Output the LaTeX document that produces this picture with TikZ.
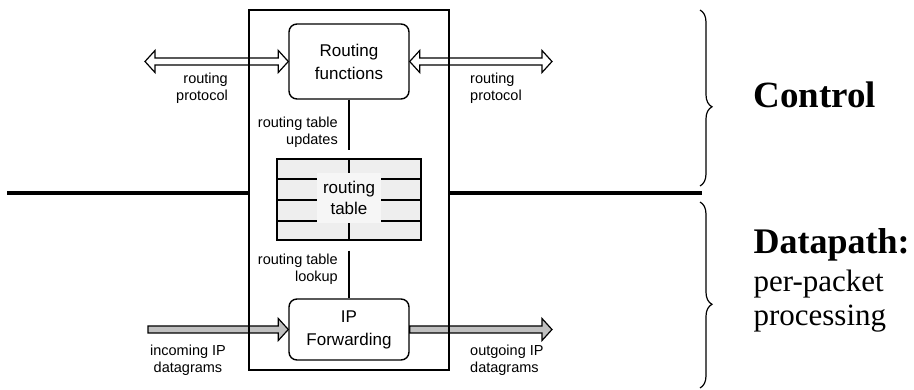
\documentclass[tikz,border=0pt]{standalone}
\usepackage{fontspec}
\setmainfont{Liberation Serif}
\setsansfont{Liberation Sans}
\usetikzlibrary{calc,decorations.pathreplacing}

% fat one-way arrow: fill, tail, head
\newcommand{\fatarrow}[3]{%
  \draw[line width=1.2pt, fill=#1] let \p1=(#2), \p2=(#3) in
    (\x1,\y2+3.5pt) -- (\x2-10pt,\y2+3.5pt) -- (\x2-10pt,\y2+11pt) -- (\x2,\y2)
    -- (\x2-10pt,\y2-11pt) -- (\x2-10pt,\y2-3.5pt) -- (\x1,\y2-3.5pt) -- cycle;}
% fat two-way arrow: left tip, right tip
\newcommand{\fatdarrow}[2]{%
  \draw[line width=1.2pt, fill=white] let \p1=(#1), \p2=(#2) in
    (\x1,\y2) -- (\x1+10pt,\y2+11pt) -- (\x1+10pt,\y2+3.5pt) -- (\x2-10pt,\y2+3.5pt)
    -- (\x2-10pt,\y2+11pt) -- (\x2,\y2) -- (\x2-10pt,\y2-11pt) -- (\x2-10pt,\y2-3.5pt)
    -- (\x1+10pt,\y2-3.5pt) -- (\x1+10pt,\y2-11pt) -- cycle;}

\begin{document}
\begin{tikzpicture}[x=1pt,y=-1pt,
    fnbox/.style={draw,rounded corners=8pt,line width=1.4pt,fill=white,minimum width=120,align=center,font=\sffamily\fontsize{17}{23}\selectfont},
    lbl/.style={inner sep=0pt,font=\sffamily\fontsize{14.5}{17}\selectfont},
    link/.style={line width=1.4pt}]
    \definecolor{router_table}{RGB}{238,238,238}
    \definecolor{router_label}{RGB}{246,246,246}
    \definecolor{router_data}{RGB}{192,192,192}
    \useasboundingbox (0,0) rectangle (914,390);

    \node[fnbox,minimum height=75] (rf) at (349,61.5) {Routing\\functions};
    \node[fnbox,minimum height=61] (ipf) at (349,329.5) {IP\\Forwarding};
    \node[shape=rectangle,draw,line width=1.4pt,fill=router_table,minimum width=144,minimum height=81] (rt) at (349,199.5) {};
    \foreach \y in {179,200,221}
        \draw[line width=1.4pt] (277,\y) -- (421,\y);
    \draw[line width=1.4pt] (349,159) -- (349,179) (349,221) -- (349,240);
    \node[fill=router_label,inner sep=0pt,minimum width=64,minimum height=50,align=center,font=\sffamily\fontsize{17}{21}\selectfont] (rtlabel) at (349,198) {routing\\table};

    \draw[link,shorten >=8pt] (rf.south) -- (rt.north);
    \draw[link,shorten <=10pt] (rt.south) -- (ipf.north);

    \coordinate (protoL) at (145,61.5);
    \coordinate (protoR) at (552,61.5);
    \coordinate (dataL) at (148,329.5);
    \coordinate (dataR) at (552,329.5);
    \fatdarrow{protoL}{rf.west}
    \fatdarrow{rf.east}{protoR}
    \fatarrow{router_data}{dataL}{ipf.west}
    \fatarrow{router_data}{ipf.east}{dataR}

    \node[shape=rectangle,draw,line width=1.6pt,minimum width=200,minimum height=360] (frame) at (349,190) {};

    \coordinate (divL) at (7,193);
    \coordinate (divR) at (702,193);
    \draw[line width=3.5pt] (divL) -- (divL -| frame.west);
    \draw[line width=3.5pt] (divR -| frame.east) -- (divR);

    \node[lbl,align=right,anchor=north east] (protoLlbl) at (228,73) {routing\\protocol};
    \node[lbl,align=left,anchor=north west] (protoRlbl) at (470,73) {routing\\protocol};
    \node[lbl,align=right,anchor=east] (updlbl) at (338,132) {routing table\\updates};
    \node[lbl,align=right,anchor=east] (lkplbl) at (338,269) {routing table\\lookup};
    \node[lbl,align=center,anchor=north] (inlbl) at (188,345) {incoming IP\\datagrams};
    \node[lbl,align=left,anchor=north west] (outlbl) at (470,345) {outgoing IP\\datagrams};

    \draw[decorate,decoration={brace,amplitude=12pt,aspect=0.55},line width=1.2pt] (700,10) -- (700,186);
    \draw[decorate,decoration={brace,amplitude=12pt,aspect=0.55},line width=1.2pt] (700,202) -- (700,388);

    \node[anchor=base west,font=\bfseries\fontsize{37}{42}\selectfont] (ctl) at (750,108) {Control};
    \node[anchor=base west,font=\bfseries\fontsize{36}{42}\selectfont] (dp) at (750,254) {Datapath:};
    \node[anchor=base west,font=\fontsize{31}{36}\selectfont] (pp1) at (750,292) {per-packet};
    \node[anchor=base west,font=\fontsize{31}{36}\selectfont] (pp2) at (750,326) {processing};
\end{tikzpicture}
\end{document}
